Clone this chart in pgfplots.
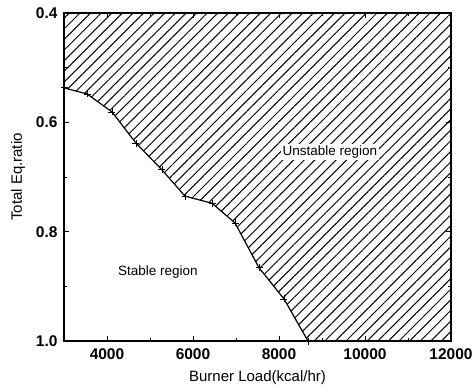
\documentclass[border=0pt]{standalone}
\usepackage{fontspec}
\setmainfont{Liberation Sans}
\usepackage{pgfplots}
\pgfplotsset{compat=1.18}
\usetikzlibrary{patterns.meta}
\begin{document}
\begin{tikzpicture}
\begin{axis}[
 scale only axis, width=387pt, height=328pt,
 xmin=3000, xmax=12000, ymin=0.4, ymax=1.0, y dir=reverse,
 xtick={4000,6000,8000,10000,12000}, ytick={0.4,0.6,0.8,1.0},
 minor xtick={5000,7000,9000,11000}, minor ytick={0.5,0.7,0.9},
 scaled x ticks=false,
 tick align=inside, major tick length=5pt, minor tick length=3pt,
 tick style={black, line width=0.8pt},
 x tick label style={/pgf/number format/1000 sep={}, yshift=-4pt},
 y tick label style={/pgf/number format/fixed, /pgf/number format/fixed zerofill, /pgf/number format/precision=1, xshift=-3pt},
 /pgf/number format/assume math mode=true,
 ticklabel style={font=\fontsize{15.5}{17}\selectfont\bfseries},
 xlabel={Burner Load(kcal/hr)}, ylabel={Total Eq.ratio},
 label style={font=\fontsize{15}{17}\selectfont},
 xlabel style={yshift=-4pt},
 ylabel style={yshift=4pt},
 axis line style={line width=1.5pt},
 clip=true,
]
\addplot[draw=none, pattern={Lines[angle=45, distance=7.5pt, line width=1pt]}, pattern color=black] coordinates {
(3000,0.537) (3535,0.548) (4116,0.581) (4674,0.638) (5279,0.687) (5814,0.735) (6442,0.748) (6977,0.784) (7535,0.866) (8116,0.923) (8674,1.0)
(12000,1.0) (12000,0.4) (3000,0.4)} -- cycle;
\addplot[black, line width=1.2pt, mark=+, mark size=3.5pt, mark options={line width=0.8pt}] coordinates {
(3000,0.537) (3535,0.548) (4116,0.581) (4674,0.638) (5279,0.687) (5814,0.735) (6442,0.748) (6977,0.784) (7535,0.866) (8116,0.923) (8674,1.0)};
\node[fill=white, inner sep=2pt, font=\fontsize{13.5}{15}\selectfont] at (axis cs:9186,0.654) {Unstable region};
\node[font=\fontsize{13.5}{15}\selectfont] at (axis cs:5186,0.874) {Stable region};
\coordinate (sw) at (axis description cs:0,0);
\coordinate (ne) at (axis description cs:1,1);
\end{axis}
\path (sw) ++(-64pt,-49pt) coordinate (a);
\path (ne) ++(25pt,13pt) coordinate (b);
\path (a) rectangle (b);
\end{tikzpicture}
\end{document}
